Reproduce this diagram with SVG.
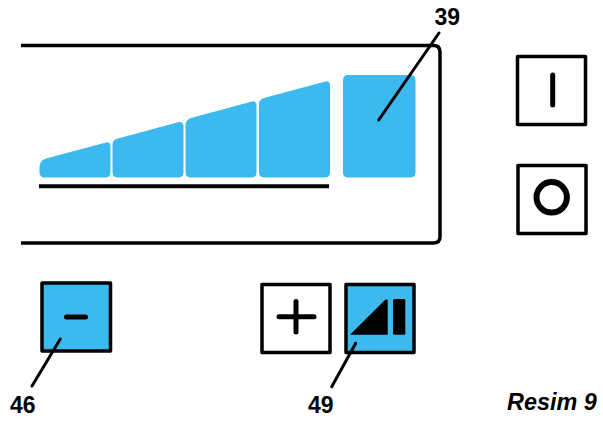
<svg xmlns="http://www.w3.org/2000/svg" width="603" height="421" viewBox="0 0 603 421">
<style>
.blue{fill:#3cb9ee;stroke:#3cb9ee;stroke-width:1;stroke-linejoin:round}
.btn{stroke:#000;stroke-width:3.5;stroke-linejoin:round}
.line{fill:none;stroke:#000;stroke-linecap:round}
.lead{fill:none;stroke:#000;stroke-width:3;stroke-linecap:round}
text{font-family:"Liberation Sans",Arial,sans-serif;font-weight:bold;fill:#000}
.num{font-size:23px}
</style>
<rect width="603" height="421" fill="#fff"/>
<g id="display">
<path d="M21 45.500H433.500Q440 45.500 440 52V236.500Q440 243 433.500 243H21" fill="none" stroke="#000" stroke-width="3.500"/>
<path class="blue" d="M40 172V167Q40 161 46 159L106 143Q110 142 110 146V173Q110 177 106 177H44Q40 177 40 172Z"/>
<path class="blue" d="M113 173V144Q113 140 118 139L179 122.500Q183 122 183 126V173Q183 177 179 177H117Q113 177 113 173Z"/>
<path class="blue" d="M186 173V125Q186 120 191 118.500L252 102Q256 101 256 105V173Q256 177 252 177H190Q186 177 186 173Z"/>
<path class="blue" d="M259.500 173V104Q259.500 99.500 264 98.500L325.500 82Q329.500 81 329.500 85V173Q329.500 177 325.500 177H263.500Q259.500 177 259.500 173Z"/>
<rect class="blue" x="343.500" y="75.500" width="71.500" height="101.500" rx="4"/>
<line x1="39" y1="186.300" x2="329" y2="186.300" stroke="#000" stroke-width="4"/>
</g>
<g id="button-on">
<rect class="btn" x="517.500" y="56.500" width="68" height="68" fill="#fff"/>
<line class="line" x1="552.700" y1="75" x2="552.700" y2="105" stroke-width="5"/>
</g>
<g id="button-off">
<rect class="btn" x="518" y="165.500" width="68" height="68" fill="#fff"/>
<circle cx="551.700" cy="197.300" r="15.200" fill="none" stroke="#000" stroke-width="6"/>
</g>
<g id="button-minus">
<rect class="btn" x="42" y="283" width="68.500" height="68" fill="#3cb9ee"/>
<line class="line" x1="66.500" y1="317" x2="85.500" y2="317" stroke-width="5"/>
</g>
<g id="button-plus">
<rect class="btn" x="262" y="284.500" width="68" height="68" fill="#fff"/>
<line class="line" x1="279" y1="316.700" x2="314" y2="316.700" stroke-width="5"/>
<line class="line" x1="296" y1="301.500" x2="296" y2="332" stroke-width="5"/>
</g>
<g id="button-level">
<rect class="btn" x="346" y="284.500" width="68" height="68" fill="#3cb9ee"/>
<path d="M350 334.700L385 300Q387.700 298 387.700 301V334.700Z" fill="#000"/>
<rect x="393" y="299" width="12.300" height="35.700" rx="1.500" fill="#000"/>
</g>
<g id="connectors">
<line class="lead" x1="439" y1="33" x2="378.700" y2="120"/>
<line class="lead" x1="60.300" y1="339" x2="32" y2="386"/>
<line class="lead" x1="355.700" y1="343.300" x2="331.700" y2="386.700"/>
</g>
<g id="labels">
<text class="num" x="434.500" y="25">39</text>
<text class="num" x="10" y="412.700">46</text>
<text class="num" x="308" y="412.700">49</text>
<text x="507" y="409.500" font-size="23.400" font-style="italic">Resim 9</text>
</g>
</svg>
